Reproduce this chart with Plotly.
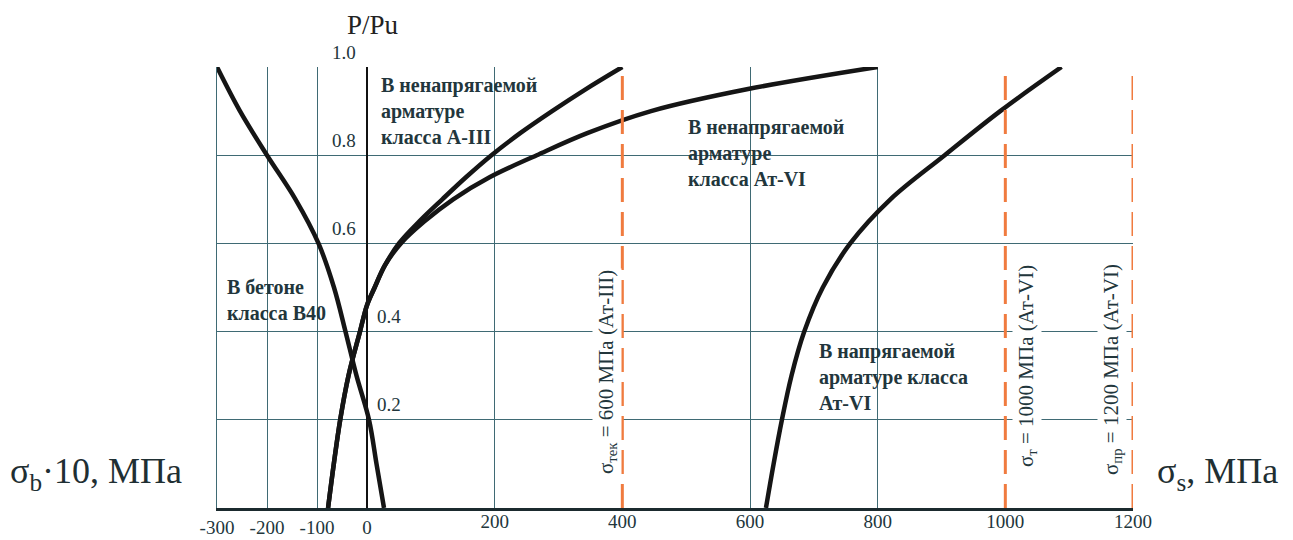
import plotly.graph_objects as go

# ---------------- data ----------------
load_concrete = [0.0, 0.1, 0.2, 0.3, 0.4, 0.5, 0.6, 0.7, 0.8, 0.9, 1.0]
sigma_b10_concrete = [34, 19, 4, -21, -43, -66, -97, -143, -200, -254, -300]

load_a3 = [0.0, 0.1, 0.2, 0.3, 0.4, 0.46, 0.5, 0.55, 0.6, 0.65, 0.7, 0.75, 0.8, 0.85, 0.9, 0.95, 1.0]
sigma_a3 = [-61, -52, -42, -29, -11, 0, 12, 28, 50, 82, 118, 155, 195, 240, 290, 343, 400]

load_at6 = [0.0, 0.1, 0.2, 0.3, 0.4, 0.46, 0.5, 0.55, 0.6, 0.65, 0.7, 0.75, 0.8, 0.85, 0.9, 0.95, 1.0]
sigma_at6 = [-61, -52, -42, -29, -11, 0, 12, 28, 53, 90, 135, 192, 266, 345, 445, 597, 800]

load_prestressed = [0.0, 0.1, 0.2, 0.3, 0.4, 0.5, 0.6, 0.7, 0.8, 0.9, 1.0]
sigma_prestressed = [625, 637, 650, 665, 685, 714, 757, 820, 905, 992, 1088]

limit_stress = [400, 1000, 1200]
limit_labels = ["σ<sub>тек</sub> = 600 МПа (Ат-III)",
                "σ<sub>т</sub> = 1000 МПа (Ат-VI)",
                "σ<sub>пр</sub> = 1200 МПа (Ат-VI)"]

x_ticks_concrete = [-300, -200, -100, 0]
x_ticks_steel = [200, 400, 600, 800, 1000, 1200]
y_ticks = [0.2, 0.4, 0.6, 0.8, 1.0]
y_tick_labels = ["0.2", "0.4", "0.6", "0.8", "1.0"]

curve_labels = ["В ненапрягаемой<br>арматуре<br>класса А-III",
                "В ненапрягаемой<br>арматуре<br>класса Ат-VI",
                "В бетоне<br>класса В40",
                "В напрягаемой<br>арматуре класса<br>Ат-VI"]

# ---------------- styling ----------------
W, H = 1293, 540          # browser window
OFF = 8                   # default body margin of the html page
PL, PR, PT, PB = 217, 1133, 67, 508   # plot area in page pixels
PW, PH = PR - PL, PB - PT
FONT = "Liberation Serif"
TXT = "#22363c"
GRID = "#3f6a74"
ORANGE = "#f07b3f"
CURVE = "#151515"


def px(xp):
    return (xp - PL) / PW


def py(yp):
    return (PB - yp) / PH


# axis ranges: concrete axis 0.5 px per unit, steel axis with 0 at same place
zero_px = 367
c_scale = (zero_px - PL) / 300.0
c_left = -300
c_right = c_left + PW / c_scale
s_scale = (PR - zero_px) / 1200.0
s_left = -(zero_px - PL) / s_scale
s_right = 1200

fig = go.Figure()

curve_line = dict(color=CURVE, width=4.5, shape="spline", smoothing=1.0)
fig.add_trace(go.Scatter(x=sigma_b10_concrete, y=load_concrete, mode="lines",
                         line=curve_line, xaxis="x", yaxis="y", hoverinfo="skip"))
fig.add_trace(go.Scatter(x=sigma_a3, y=load_a3, mode="lines",
                         line=curve_line, xaxis="x2", yaxis="y", hoverinfo="skip"))
fig.add_trace(go.Scatter(x=sigma_at6, y=load_at6, mode="lines",
                         line=curve_line, xaxis="x2", yaxis="y", hoverinfo="skip"))
fig.add_trace(go.Scatter(x=sigma_prestressed, y=load_prestressed, mode="lines",
                         line=curve_line, xaxis="x2", yaxis="y", hoverinfo="skip"))

for v in limit_stress:
    fig.add_trace(go.Scatter(x=[v, v], y=[0, 1], mode="lines",
                             line=dict(color=ORANGE, width=3, dash="24px,10px"),
                             xaxis="x2", yaxis="y", hoverinfo="skip"))

grid_steel = [t for t in x_ticks_steel if t not in limit_stress]

fig.update_layout(
    template="none",
    width=W - OFF, height=H - OFF,
    margin=dict(l=PL - OFF, r=W - PR, t=PT - OFF, b=H - PB, pad=0, autoexpand=False),
    paper_bgcolor="white", plot_bgcolor="white",
    showlegend=False,
    font=dict(family=FONT, color=TXT, size=19),
    xaxis=dict(range=[c_left, c_right], tickmode="array", tickvals=x_ticks_concrete,
               ticktext=[str(t) for t in x_ticks_concrete], automargin=False,
               showgrid=True, gridcolor=GRID, gridwidth=1, zeroline=False,
               showline=True, linecolor="#1b2a2e", linewidth=3, ticks="",
               tickfont=dict(family=FONT, size=19, color=TXT)),
    xaxis2=dict(range=[s_left, s_right], overlaying="x", side="bottom", anchor="y",
                tickmode="array", tickvals=x_ticks_steel, automargin=False,
                ticktext=[str(t) for t in x_ticks_steel],
                showgrid=False, zeroline=True, zerolinecolor="#111111", zerolinewidth=2,
                showline=False, ticks="",
                minor=dict(tickmode="array", tickvals=grid_steel, showgrid=True,
                           gridcolor=GRID, gridwidth=1, ticks=""),
                tickfont=dict(family=FONT, size=19, color=TXT)),
    yaxis=dict(range=[0, 1], tickmode="array", tickvals=y_ticks, showticklabels=False,
               automargin=False,
               showgrid=True, gridcolor=GRID, gridwidth=1, zeroline=False,
               showline=True, linecolor=GRID, linewidth=1, ticks=""),
)

# white backgrounds behind captions (between gridlines and curves)
caption_boxes = [(375, 72, 547, 150), (683, 114, 855, 192),
                 (222, 276, 333, 324), (814, 338, 976, 416)]
shapes = []
for x0, y0, x1, y1 in caption_boxes:
    shapes.append(dict(type="rect", xref="paper", yref="paper",
                       x0=px(x0), x1=px(x1), y0=py(y1), y1=py(y0),
                       fillcolor="white", line=dict(width=0), layer="between"))
fig.update_layout(shapes=shapes)

ann = []
# y tick labels alongside the σ = 0 line
for v, t in zip(y_ticks, y_tick_labels):
    right_side = v < 0.5
    ann.append(dict(x=0, y=v, xref="x2", yref="y", text=t, showarrow=False,
                    xanchor="left" if right_side else "right", yanchor="middle",
                    xshift=8 if right_side else -9, yshift=15,
                    font=dict(family=FONT, size=19, color=TXT)))

# curve captions
caption_pos = [(379, 111), (686, 153), (225, 300), (817, 377)]
for t, (xp, yp) in zip(curve_labels, caption_pos):
    ann.append(dict(x=px(xp), y=py(yp), xref="paper", yref="paper", text=t,
                    showarrow=False, xanchor="left", yanchor="middle", align="left",
                    font=dict(family=FONT, size=20, color=TXT, weight="bold")))

# limit labels (vertical)
limit_pos = [(607, 372), (1027, 366), (1112, 370)]
for t, (xp, yp) in zip(limit_labels, limit_pos):
    ann.append(dict(x=px(xp), y=py(yp), xref="paper", yref="paper", text=t,
                    showarrow=False, textangle=-90, xanchor="center", yanchor="middle",
                    bgcolor="white", borderpad=1,
                    font=dict(family=FONT, size=21, color=TXT)))

# axis titles
ann.append(dict(x=px(373), y=py(25), xref="paper", yref="paper", text="P/Pu",
                showarrow=False, xanchor="center", yanchor="middle",
                font=dict(family=FONT, size=27, color="#222222")))
ann.append(dict(x=px(8), y=py(473), xref="paper", yref="paper",
                text="σ<sub>b</sub>·10, МПа", showarrow=False,
                xanchor="left", yanchor="middle",
                font=dict(family=FONT, size=36, color="#1f2f33")))
ann.append(dict(x=px(1155), y=py(473), xref="paper", yref="paper",
                text="σ<sub>s</sub>, МПа", showarrow=False,
                xanchor="left", yanchor="middle",
                font=dict(family=FONT, size=36, color="#1f2f33")))

fig.update_layout(annotations=ann)
fig.write_html("out.html")
